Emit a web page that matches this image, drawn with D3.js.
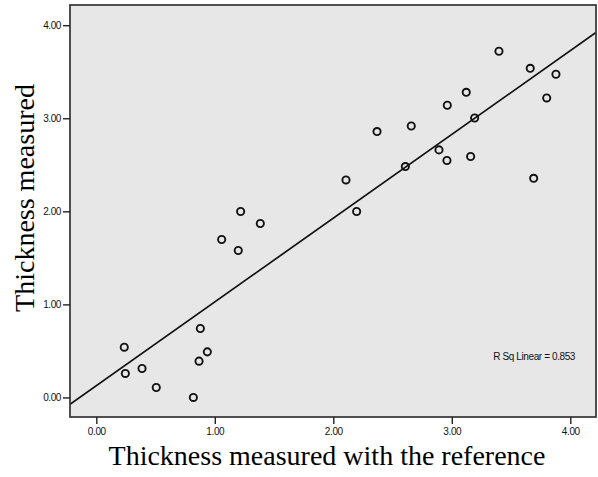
<!DOCTYPE html>
<html>
<head>
<meta charset="utf-8">
<script src="https://cdn.jsdelivr.net/npm/d3@7"></script>
<style>
  body { margin: 0; background: #fff; }
  .tick text { font-family: Arial, "Liberation Sans", sans-serif; font-size: 10px; letter-spacing: -0.4px; fill: #111; }
  .tick line { stroke: #222; stroke-width: 1.4; }
  .title { font-family: "Times New Roman", "Liberation Serif", serif; font-size: 28px; fill: #000; }
</style>
</head>
<body>
<svg width="598" height="477"></svg>
<script>
// measured with the reference (x) vs measured (y)
var refValues = [0.236, 0.245, 0.386, 0.506, 0.819, 0.867, 0.878, 0.937, 1.058, 1.198, 1.218, 1.384,
  2.107, 2.197, 2.369, 2.608, 2.658, 2.892, 2.959, 2.962, 3.122, 3.159, 3.193, 3.398, 3.662, 3.691, 3.801, 3.879];
var measValues = [0.54, 0.258, 0.311, 0.107, 0.0, 0.39, 0.741, 0.49, 1.697, 1.579, 1.998, 1.869,
  2.337, 1.998, 2.857, 2.481, 2.917, 2.66, 2.546, 3.14, 3.279, 2.589, 3.003, 3.72, 3.537, 2.355, 3.218, 3.473];
var tickValues = [0, 1, 2, 3, 4];
var xTitle = 'Thickness measured with the reference';
var yTitle = 'Thickness measured';
var rsqLabel = 'R Sq Linear = 0.853';

var margin = { left: 70, top: 5 };
var width = 526, height = 412;

var svg = d3.select('svg');
var g = svg.append('g').attr('transform', 'translate(' + margin.left + ',' + margin.top + ')');

var x = d3.scaleLinear().domain([-0.222, 4.217]).range([0, width]);
var y = d3.scaleLinear().domain([-0.21, 4.217]).range([height, 0]);

g.append('clipPath').attr('id', 'clip')
  .append('rect').attr('width', width).attr('height', height);

g.append('rect')
  .attr('width', width).attr('height', height)
  .attr('fill', '#e7e7e7');

// least squares fit
var mx = d3.mean(refValues), my = d3.mean(measValues);
var sxy = d3.sum(refValues, function(v, i) { return (v - mx) * (measValues[i] - my); });
var sxx = d3.sum(refValues, function(v) { return (v - mx) * (v - mx); });
var slope = sxy / sxx, intercept = my - slope * mx;
var xd = x.domain();

g.append('line')
  .attr('clip-path', 'url(#clip)')
  .attr('x1', x(xd[0])).attr('y1', y(intercept + slope * xd[0]))
  .attr('x2', x(xd[1])).attr('y2', y(intercept + slope * xd[1]))
  .attr('stroke', '#111').attr('stroke-width', 1.7);

g.selectAll('circle.pt')
  .data(refValues)
  .enter().append('circle')
  .attr('class', 'pt')
  .attr('cx', function(d) { return x(d); })
  .attr('cy', function(d, i) { return y(measValues[i]); })
  .attr('r', 3.6)
  .attr('fill', 'none')
  .attr('stroke', '#111')
  .attr('stroke-width', 1.9);

g.append('rect')
  .attr('width', width).attr('height', height)
  .attr('fill', 'none').attr('stroke', '#333').attr('stroke-width', 1.7);

var xAxis = g.append('g').attr('transform', 'translate(0,' + height + ')')
  .call(d3.axisBottom(x).tickValues(tickValues).tickFormat(d3.format('.2f')).tickSize(7).tickSizeOuter(0).tickPadding(4));
xAxis.select('.domain').remove();

var yAxis = g.append('g')
  .call(d3.axisLeft(y).tickValues(tickValues).tickFormat(d3.format('.2f')).tickSize(7).tickSizeOuter(0).tickPadding(2));
yAxis.select('.domain').remove();

g.append('text')
  .attr('x', width - 21).attr('y', 355)
  .attr('text-anchor', 'end')
  .style('font-family', 'Arial, "Liberation Sans", sans-serif')
  .style('font-size', '10px').style('letter-spacing', '-0.4px').style('fill', '#111')
  .text(rsqLabel);

svg.append('text').attr('class', 'title')
  .attr('x', 327).attr('y', 465)
  .attr('text-anchor', 'middle')
  .text(xTitle);

svg.append('text').attr('class', 'title')
  .attr('transform', 'translate(34,198) rotate(-90)')
  .attr('text-anchor', 'middle')
  .text(yTitle);
</script>
</body>
</html>
